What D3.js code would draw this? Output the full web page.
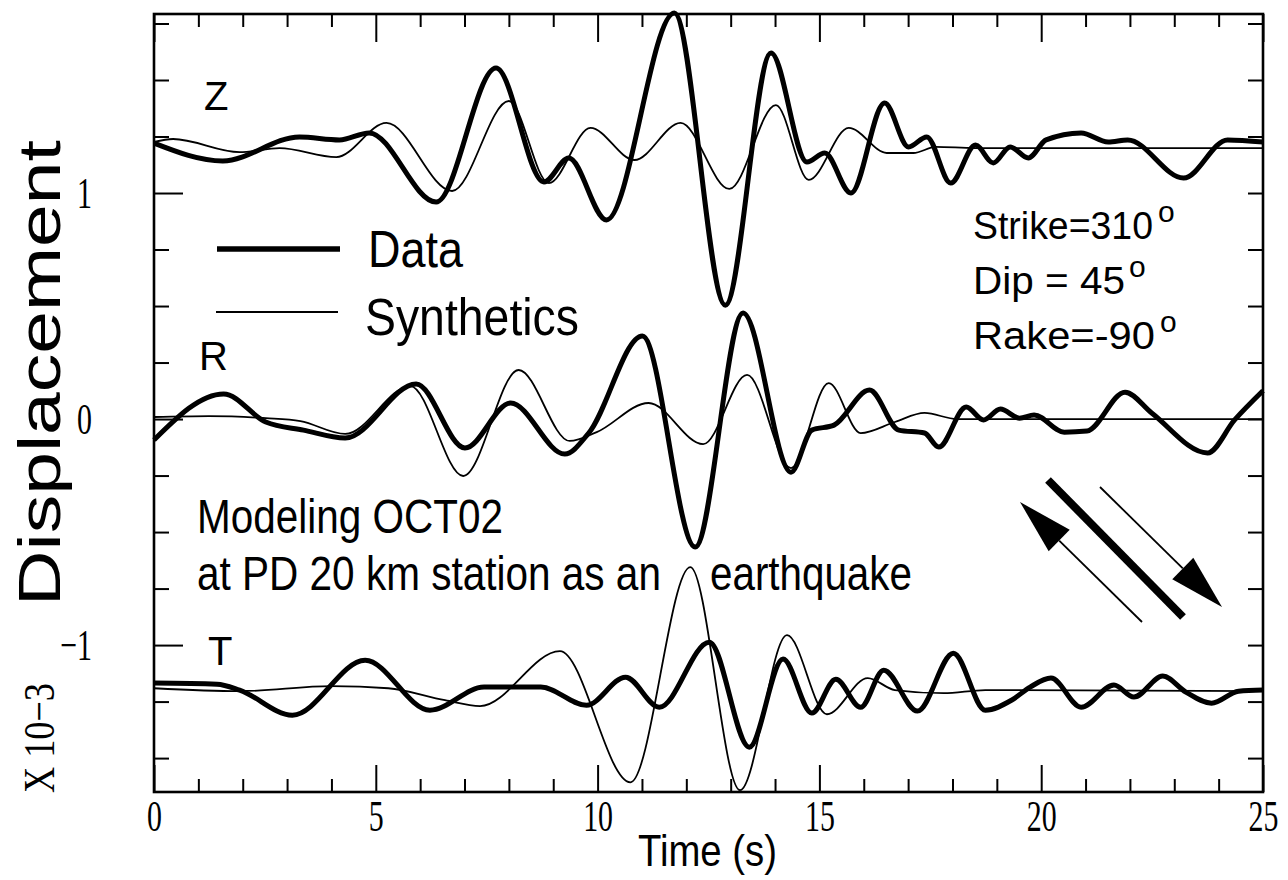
<!DOCTYPE html>
<html>
<head>
<meta charset="utf-8">
<script src="https://cdn.jsdelivr.net/npm/d3@7"></script>
<style>
  body { margin: 0; background: #fff; }
  svg { display: block; }
</style>
</head>
<body>
<div class="chart"></div>
<script>
// axis ticks
const timeTicks = [0, 5, 10, 15, 20, 25];
const dispTicks = [-1, 0, 1];

// trace baselines (x 10^-3)
const components = ['Z', 'R', 'T'];
const offsets = [1.208, 0, -1.195];

// [time (s), displacement relative to baseline]
const zData = [[0,0.013],[1.55,-0.066],[3.28,0.040],[4.18,0.027],[4.85,0.058],[6.36,-0.248],[7.71,0.345],[8.79,-0.159],[9.35,-0.053],[10.20,-0.327],[11.73,0.588],[12.88,-0.704],[13.91,0.412],[14.72,-0.071],[15.12,-0.031],[15.71,-0.208],[16.47,0.190],[17.01,-0.004],[17.42,0.040],[17.96,-0.164],[18.52,0.004],[18.92,-0.075],[19.30,-0.004],[19.71,-0.053],[20.11,0.027],[20.90,0.058],[21.51,0.018],[21.95,0.027],[23.21,-0.142],[24.20,0.027],[25,0.018]];
const zSynth = [[0,0.018],[0.43,0.031],[1.93,-0.027],[2.83,-0.009],[4.11,-0.049],[5.24,0.102],[6.72,-0.199],[8.00,0.199],[8.90,-0.164],[9.84,0.080],[10.83,-0.062],[11.87,0.102],[12.97,-0.190],[14.02,0.181],[14.76,-0.150],[15.66,0.080],[16.52,-0.031],[17.12,-0.031],[17.62,-0.004],[18.5,-0.009],[25,-0.009]];

const rData = [[0,-0.093],[1.57,0.111],[2.52,-0.013],[3.37,-0.049],[4.31,-0.084],[5.91,0.155],[7.01,-0.128],[8.04,0.071],[9.26,-0.155],[9.80,-0.062],[11.01,0.367],[12.20,-0.566],[13.28,0.469],[14.36,-0.235],[14.83,-0.049],[15.33,-0.027],[16.13,0.128],[16.79,-0.049],[17.37,-0.062],[17.69,-0.124],[18.31,0.053],[18.70,-0.004],[19.08,0.044],[19.51,0.004],[19.84,0.018],[20.52,-0.058],[21.03,-0.053],[21.89,0.119],[22.49,0.027],[23.75,-0.150],[24.36,-0.004],[25,0.125]];
const rSynth = [[0,0.009],[1.24,0.013],[2.52,0.004],[3.3,-0.009],[4.31,-0.066],[5.78,0.146],[6.97,-0.252],[8.22,0.217],[9.37,-0.097],[9.98,-0.058],[11.15,0.071],[12.38,-0.111],[13.37,0.195],[14.36,-0.217],[15.21,0.159],[15.93,-0.062],[16.70,-0.013],[17.37,0.027],[18.1,0],[25,0]];

const tData = [[0,0.027],[1.42,0.022],[1.93,-0.004],[3.12,-0.115],[4.76,0.128],[6.22,-0.093],[7.44,0.009],[8.72,0.009],[9.75,-0.071],[10.63,0.053],[11.39,-0.080],[12.52,0.208],[13.42,-0.257],[14.18,0.133],[14.83,-0.106],[15.37,0.044],[15.93,-0.080],[16.45,0.084],[17.21,-0.097],[18.02,0.159],[18.74,-0.093],[19.33,-0.049],[19.75,0.009],[20.22,0.049],[20.90,-0.080],[21.64,0.018],[22.09,-0.035],[22.74,0.058],[23.26,-0.013],[23.84,-0.062],[24.45,-0.009],[25,-0.004]];
const tSynth = [[0,0.004],[1.93,-0.009],[4.0,0.013],[5.28,0.004],[6.56,-0.049],[7.35,-0.075],[9.15,0.168],[10.74,-0.412],[12.09,0.540],[13.21,-0.447],[14.27,0.239],[15.17,-0.111],[16.09,0.049],[16.70,-0.004],[17.80,-0.018],[18.74,-0.004],[25,-0.009]];

const legendLabels = ['Data', 'Synthetics'];
const mechanism = ['Strike=310', 'Dip = 45', 'Rake=-90'];

const W = 1288, H = 880;
const margin = {top: 14, right: 25, bottom: 88, left: 154};
const width = W - margin.left - margin.right;
const height = H - margin.top - margin.bottom;

const serif = '"Liberation Serif", "DejaVu Serif", serif';
const sans = '"Liberation Sans", Arial, sans-serif';

const svg = d3.select('.chart').append('svg')
    .attr('width', W)
    .attr('height', H);
const g = svg.append('g')
    .attr('transform', 'translate(' + margin.left + ',' + margin.top + ')');

const x = d3.scaleLinear().domain([0, 25]).range([0, width]);
const y = d3.scaleLinear().domain([-1.65, 1.792]).range([height, 0]);

const minorX = d3.range(0, 26).filter(d => d % 5 !== 0);
const allY = d3.range(-6, 8).map(d => d * 0.25);
const minorY = allY.filter(d => !Number.isInteger(d));

function styleAxis(a) {
    a.select('.domain').remove();
    a.selectAll('.tick line').attr('stroke', '#000').attr('stroke-width', 2);
}
// tall narrow serif numerals
const sx = 0.68;
function serifLabels(a) {
    a.selectAll('text')
        .attr('font-family', serif)
        .attr('font-size', 44)
        .attr('fill', '#000')
        .attr('transform', 'scale(' + sx + ',1)');
}

// bottom axis
g.append('g').attr('transform', 'translate(0,' + height + ')')
    .call(d3.axisBottom(x).tickValues(timeTicks).tickSize(-27).tickPadding(8).tickFormat(d3.format('d')))
    .call(styleAxis).call(serifLabels);
g.append('g').attr('transform', 'translate(0,' + height + ')')
    .call(d3.axisBottom(x).tickValues(minorX).tickSize(-13).tickFormat(''))
    .call(styleAxis);
// top axis
g.append('g')
    .call(d3.axisTop(x).tickValues(timeTicks).tickSize(-28).tickFormat(''))
    .call(styleAxis);
g.append('g')
    .call(d3.axisTop(x).tickValues(minorX).tickSize(-13).tickFormat(''))
    .call(styleAxis);
// left axis
g.append('g')
    .call(d3.axisLeft(y).tickValues(dispTicks).tickSize(-29).tickPadding(0).tickFormat(d3.format('d')))
    .call(styleAxis).call(serifLabels)
    .call(a => a.selectAll('text').attr('x', -62 / sx));
g.append('g')
    .call(d3.axisLeft(y).tickValues(minorY).tickSize(-15).tickFormat(''))
    .call(styleAxis);
// right axis
g.append('g').attr('transform', 'translate(' + width + ',0)')
    .call(d3.axisRight(y).tickValues(allY).tickSize(-15).tickFormat(''))
    .call(styleAxis);

// frame
g.append('rect')
    .attr('width', width)
    .attr('height', height)
    .attr('fill', 'none')
    .attr('stroke', '#000')
    .attr('stroke-width', 2.6);

// traces: synthetics thin, data thick
const traces = [
    {values: zSynth, offset: offsets[0], w: 1.8},
    {values: rSynth, offset: offsets[1], w: 1.8},
    {values: tSynth, offset: offsets[2], w: 1.8},
    {values: zData, offset: offsets[0], w: 5},
    {values: rData, offset: offsets[1], w: 5},
    {values: tData, offset: offsets[2], w: 5}
];
const line = d3.line()
    .x(d => x(d[0]))
    .y(d => y(d[1]))
    .curve(d3.curveMonotoneX);
traces.forEach(tr => {
    g.append('path')
        .datum(tr.values.map(d => [d[0], d[1] + tr.offset]))
        .attr('d', line)
        .attr('fill', 'none')
        .attr('stroke', '#000')
        .attr('stroke-width', tr.w)
        .attr('stroke-linejoin', 'round');
});

// text squeezed horizontally to a measured width
function label(txt, px, py, size, len, opts) {
    opts = opts || {};
    const grp = svg.append('g');
    const t = grp.append('text')
        .attr('font-family', opts.family || sans)
        .attr('font-size', size)
        .attr('text-anchor', opts.anchor || 'start')
        .attr('fill', '#000')
        .text(txt);
    const k = len ? len / t.node().getComputedTextLength() : 1;
    grp.attr('transform', 'translate(' + px + ',' + py + ')' +
        (opts.rotate ? ' rotate(' + opts.rotate + ')' : '') +
        ' scale(' + k + ',1)');
    return grp;
}

// component names
const compPos = [[204, 110], [199, 370], [208, 665]];
components.forEach((c, i) => label(c, compPos[i][0], compPos[i][1], 40));

// legend
svg.append('line').attr('x1', 217).attr('x2', 340).attr('y1', 249).attr('y2', 249)
    .attr('stroke', '#000').attr('stroke-width', 5.5);
svg.append('line').attr('x1', 216).attr('x2', 338).attr('y1', 312).attr('y2', 312)
    .attr('stroke', '#000').attr('stroke-width', 1.8);
label(legendLabels[0], 368, 267, 51, 95);
label(legendLabels[1], 365, 335, 51, 214);

// focal mechanism
const mechLen = [180, 152, 182];
const degX = [1158, 1129, 1160];
mechanism.forEach((m, i) => {
    const by = 239 + i * 55;
    label(m, 973, by, 39, mechLen[i]);
    label('o', degX[i], by - 17, 30);
});

// description
label('Modeling OCT02', 197, 533, 49, 306);
label('at PD 20 km station as an', 197, 590, 49, 464);
label('earthquake', 710, 590, 49, 202);

// axis titles
label('Time (s)', 638, 866, 45, 139);
label('Displacement', 60, 373, 60, 466, {rotate: -90, anchor: 'middle'});
label('X 10\u22123', 54, 793, 44, 110, {rotate: -90, family: serif});

// fault slip symbol
g.append('line')
    .attr('x1', 894).attr('y1', 466).attr('x2', 1029).attr('y2', 603)
    .attr('stroke', '#000').attr('stroke-width', 8);
function arrow(x1, y1, x2, y2) {
    const a = Math.atan2(y2 - y1, x2 - x1), len = 55, hw = 15;
    const bx = x2 - len * Math.cos(a), by = y2 - len * Math.sin(a);
    g.append('line')
        .attr('x1', x1).attr('y1', y1).attr('x2', bx).attr('y2', by)
        .attr('stroke', '#000').attr('stroke-width', 1.8);
    g.append('path')
        .attr('d', 'M' + x2 + ',' + y2 +
            'L' + (bx - hw * Math.sin(a)) + ',' + (by + hw * Math.cos(a)) +
            'L' + (bx + hw * Math.sin(a)) + ',' + (by - hw * Math.cos(a)) + 'Z')
        .attr('fill', '#000');
}
arrow(946, 473, 1068, 593);
arrow(988, 608, 866, 488);
</script>
</body>
</html>
